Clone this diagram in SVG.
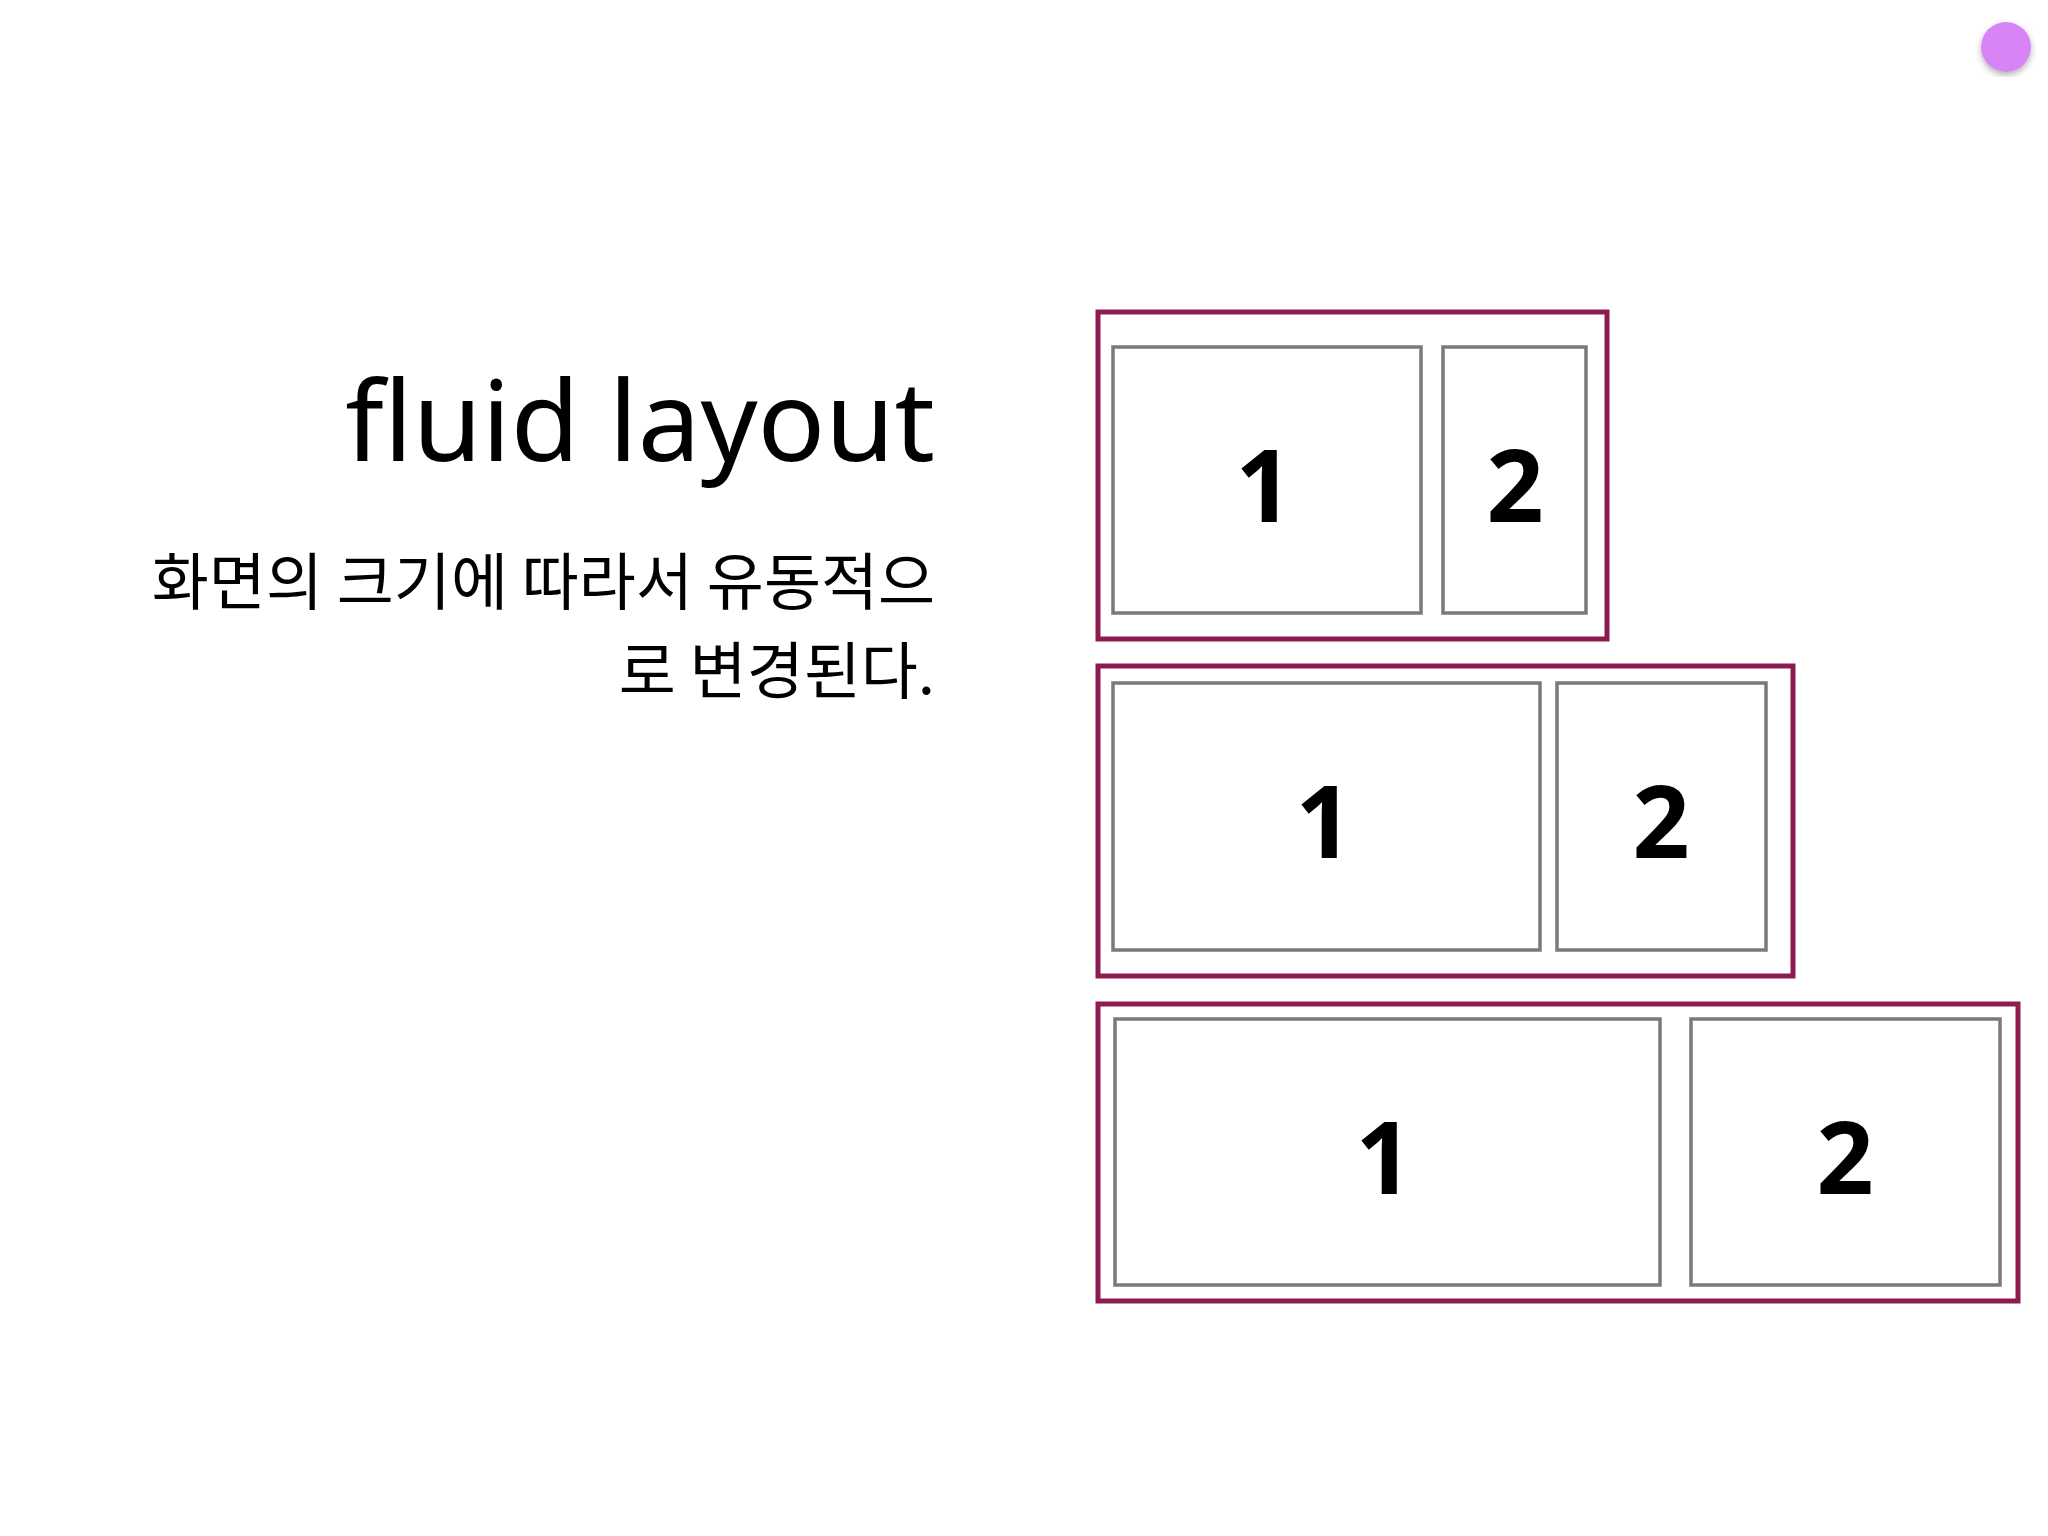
<svg xmlns="http://www.w3.org/2000/svg" width="2048" height="1536" viewBox="0 0 2048 1536">
<style>
.outer{fill:none;stroke:#8c1c50;stroke-width:5}
.inner{fill:none;stroke:#7a7a7a;stroke-width:3.5}
.num{font-family:"Noto Sans","Open Sans",sans-serif;font-weight:bold;font-size:100px;text-anchor:middle;fill:#000}
.title{font-family:"Noto Sans","Open Sans",sans-serif;font-size:112px;text-anchor:end;fill:#000}
.kr{font-family:"Noto Sans CJK KR",sans-serif;font-size:62px;text-anchor:end;fill:#000}
</style>
<defs><filter id="sh"><feDropShadow dx="0" dy="3" stdDeviation="3" flood-opacity="0.3"/></filter></defs>
<rect width="2048" height="1536" fill="#fff"/>
<circle cx="2006" cy="47" r="25" fill="#d785f5" filter="url(#sh)"/>
<g id="text">
<text class="title" x="935" y="461">fluid layout</text>
<text class="kr" x="935" y="605">화면의 크기에 따라서 유동적으</text>
<text class="kr" x="935" y="694">로 변경된다.</text>
</g>
<g id="layout1">
<rect class="outer" x="1098" y="312" width="509" height="327"/>
<rect class="inner" x="1113" y="347" width="308" height="266"/>
<rect class="inner" x="1443" y="347" width="143" height="266"/>
<text class="num" x="1264" y="522">1</text>
<text class="num" x="1515" y="522">2</text>
</g>
<g id="layout2">
<rect class="outer" x="1098" y="666" width="695" height="310"/>
<rect class="inner" x="1113" y="683" width="427" height="267"/>
<rect class="inner" x="1557" y="683" width="209" height="267"/>
<text class="num" x="1324" y="858">1</text>
<text class="num" x="1661" y="858">2</text>
</g>
<g id="layout3">
<rect class="outer" x="1098" y="1004" width="920" height="297"/>
<rect class="inner" x="1115" y="1019" width="545" height="266"/>
<rect class="inner" x="1691" y="1019" width="309" height="266"/>
<text class="num" x="1384" y="1194">1</text>
<text class="num" x="1845" y="1194">2</text>
</g>
<g id="connectors"/>
</svg>
